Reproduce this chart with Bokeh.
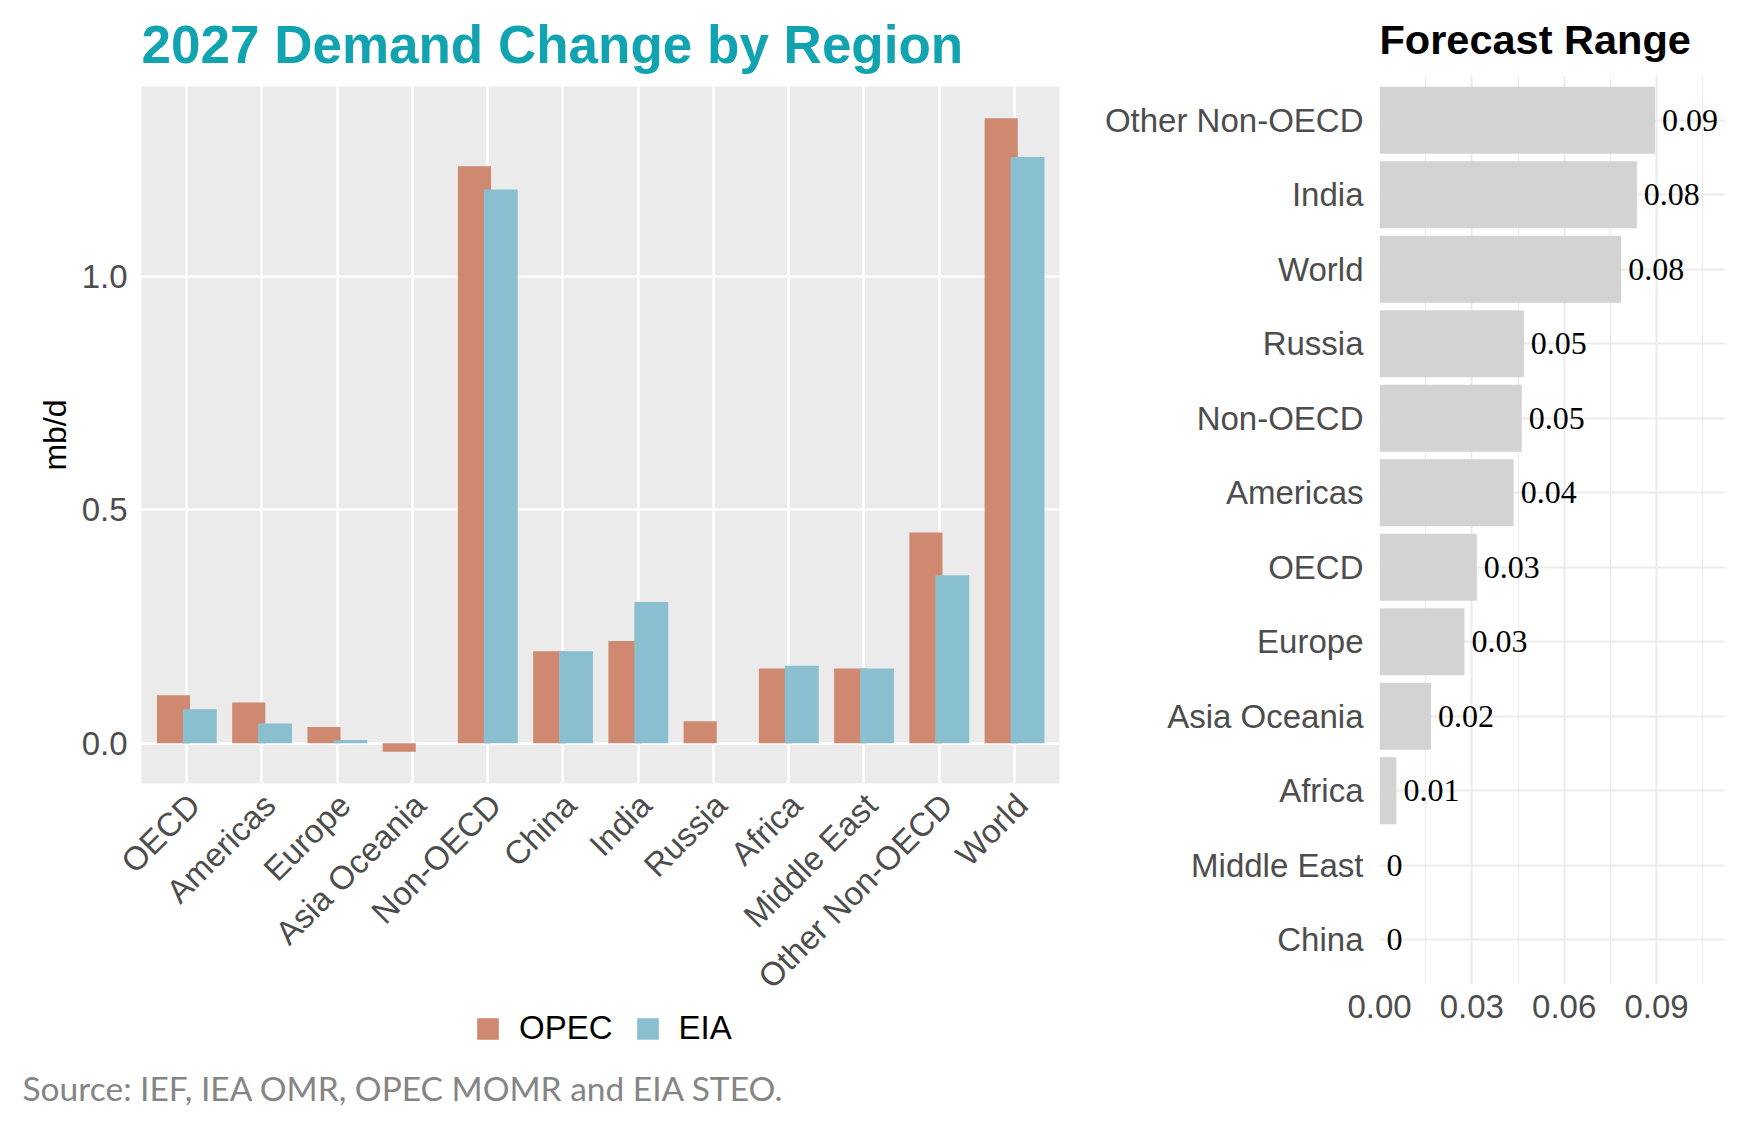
import math
from bokeh.plotting import figure
from bokeh.models import (Range1d, FixedTicker, PrintfTickFormatter, Legend, LegendItem,
                          Title, Label, ColumnDataSource)
from bokeh.layouts import row, column
from bokeh.core.properties import value
from bokeh.embed import file_html
from bokeh.resources import INLINE

# ---------------- data ----------------
regions = ["OECD", "Americas", "Europe", "Asia Oceania", "Non-OECD", "China",
           "India", "Russia", "Africa", "Middle East", "Other Non-OECD", "World"]
opec = [0.103, 0.087, 0.035, -0.0185, 1.237, 0.197, 0.219, 0.047, 0.160, 0.160, 0.452, 1.340]
eia = [0.0726, 0.042, 0.007, 0.0, 1.187, 0.197, 0.303, 0.0, 0.166, 0.160, 0.360, 1.257]

range_regions = ["Other Non-OECD", "India", "World", "Russia", "Non-OECD", "Americas",
                 "OECD", "Europe", "Asia Oceania", "Africa", "Middle East", "China"]
range_values = [0.0895, 0.0836, 0.0785, 0.0469, 0.0462, 0.0436, 0.0316, 0.0276, 0.0167,
                0.0055, 0.0, 0.0]

series_names = ["OPEC", "EIA"]
y_ticks_left = [0.0, 0.5, 1.0]
x_ticks_right = [0.0, 0.03, 0.06, 0.09]
x_minor_right = [0.015, 0.045, 0.075, 0.105]

OPEC_COLOR = "#CF8970"
EIA_COLOR = "#8ABFCF"
TICK_COLOR = "#4D4D4D"
SANS = "Liberation Sans"

# ---------------- left chart ----------------
n = len(regions)
idx = list(range(n))
label_pos = [i + 0.1 for i in idx]  # rotated labels anchored like hjust=1/vjust=1
p1 = figure(frame_width=918, frame_height=697, x_range=Range1d(-0.6, n - 1 + 0.6),
            y_range=Range1d(-0.0864, 1.408), output_backend="svg", toolbar_location=None,
            min_border_left=141, min_border_right=13, min_border_top=0, min_border_bottom=200)
p1.background_fill_color = "#EBEBEB"
p1.outline_line_color = None

src1 = ColumnDataSource(dict(xo=[i - 0.175 for i in idx], xe=[i + 0.175 for i in idx],
                             opec=opec, eia=eia))
p1.vbar(x="xo", top="opec", bottom=0, width=0.44, source=src1,
        fill_color=OPEC_COLOR, line_color=None)
p1.vbar(x="xe", top="eia", bottom=0, width=0.45, source=src1,
        fill_color=EIA_COLOR, line_color=None)

p1.xaxis.ticker = FixedTicker(ticks=label_pos)
p1.xaxis.major_label_overrides = {lp: r for lp, r in zip(label_pos, regions)}
p1.xaxis.major_label_orientation = math.pi / 4
p1.xgrid.ticker = FixedTicker(ticks=idx)
p1.yaxis.ticker = FixedTicker(ticks=y_ticks_left)
p1.yaxis.formatter = PrintfTickFormatter(format="%.1f")
for ax in (p1.xaxis, p1.yaxis):
    ax.axis_line_color = None
    ax.major_tick_line_color = None
    ax.minor_tick_line_color = None
    ax.major_label_text_font = SANS
    ax.major_label_text_font_size = "33px"
    ax.major_label_text_color = TICK_COLOR
p1.xaxis.major_label_standoff = 10
p1.yaxis.major_label_standoff = 8
p1.yaxis.axis_label = "mb/d"
p1.yaxis.axis_label_text_font = SANS
p1.yaxis.axis_label_text_font_size = "32px"
p1.yaxis.axis_label_text_font_style = "normal"
p1.yaxis.axis_label_text_color = "black"
p1.yaxis.axis_label_standoff = 6
p1.xgrid.grid_line_color = "white"
p1.xgrid.grid_line_width = 2.5
p1.ygrid.grid_line_color = "white"
p1.ygrid.grid_line_width = 2.5

p1.title = Title(text="2027 Demand Change by Region", text_font=SANS, text_font_size="53px",
                 text_font_style="bold", text_color="#11A4B0", align="left", standoff=25)

# ---------------- legend + source strip ----------------
p_leg = figure(width=1072, height=108, x_range=Range1d(0, 1), y_range=Range1d(0, 1),
               output_backend="svg", toolbar_location=None, min_border=0,
               x_axis_location=None, y_axis_location=None)
p_leg.outline_line_color = None
p_leg.xgrid.visible = False
p_leg.ygrid.visible = False
key_src = ColumnDataSource(dict(x=[0.0, 0.0], top=[0.0, 0.0], name=series_names,
                                color=[OPEC_COLOR, EIA_COLOR]))
key_r = p_leg.vbar(x="x", top="top", bottom=0, width=0.0, source=key_src,
                   fill_color="color", line_color=None)
legend = Legend(items=[LegendItem(label=series_names[0], renderers=[key_r], index=0),
                       LegendItem(label=series_names[1], renderers=[key_r], index=1)],
                orientation="horizontal", location=(474, 72),
                label_text_font=SANS, label_text_font_size="33px", label_text_color="black",
                label_text_line_height=0.8, label_height=20,
                glyph_width=27, glyph_height=27, spacing=21, label_standoff=18,
                border_line_color=None, background_fill_alpha=0, padding=0, margin=0)
p_leg.add_layout(legend, "center")
source_note = Label(x=22, y=32, x_units="screen", y_units="screen",
                    text="Source: IEF, IEA OMR, OPEC MOMR and EIA STEO.", text_font="Lato",
                    text_font_size="33.5px", text_color="#858585", text_baseline="middle",
                    text_align="left")
p_leg.add_layout(source_note, "center")

# ---------------- right chart ----------------
m = len(range_regions)
pos = [m - 1 - i for i in range(m)]
labels = [f"{round(v, 2):g}" for v in range_values]
p2 = figure(frame_width=346, frame_height=909, x_range=Range1d(0.0, 0.1124),
            y_range=Range1d(-0.6, m - 1 + 0.6), output_backend="svg", toolbar_location=None,
            min_border_left=307, min_border_right=3, min_border_top=0, min_border_bottom=52)
p2.outline_line_color = None
src2 = ColumnDataSource(dict(y=pos, v=range_values, lab=labels))
p2.hbar(y="y", right="v", left=0, height=0.9, source=src2, fill_color="#D3D3D3", line_color=None)
p2.text(x="v", y="y", text="lab", source=src2, x_offset=7, text_align="left",
        text_baseline="middle", text_font=value("Liberation Serif"), text_font_size="32px",
        text_color="black")

p2.xaxis.ticker = FixedTicker(ticks=x_ticks_right, minor_ticks=x_minor_right)
p2.xaxis.formatter = PrintfTickFormatter(format="%.2f")
p2.yaxis.ticker = FixedTicker(ticks=pos)
p2.yaxis.major_label_overrides = {p: r for p, r in zip(pos, range_regions)}
for ax in (p2.xaxis, p2.yaxis):
    ax.axis_line_color = None
    ax.major_tick_line_color = None
    ax.minor_tick_line_color = None
    ax.major_label_text_font = SANS
    ax.major_label_text_font_size = "33px"
    ax.major_label_text_color = TICK_COLOR
p2.xaxis.major_label_standoff = 4
p2.yaxis.major_label_standoff = 10
p2.xgrid.grid_line_color = "#EBEBEB"
p2.xgrid.grid_line_width = 2
p2.xgrid.minor_grid_line_color = "#EBEBEB"
p2.xgrid.minor_grid_line_width = 1.2
p2.ygrid.grid_line_color = "#EBEBEB"
p2.ygrid.grid_line_width = 2

p2.title = Title(text="Forecast Range", text_font=SANS, text_font_size="41.5px",
                 text_font_style="bold", text_color="black", align="left", standoff=26)

left = column(column(p1), column(p_leg))
layout = row(left, column(p2))
open("out.html", "w").write(file_html(layout, INLINE))
